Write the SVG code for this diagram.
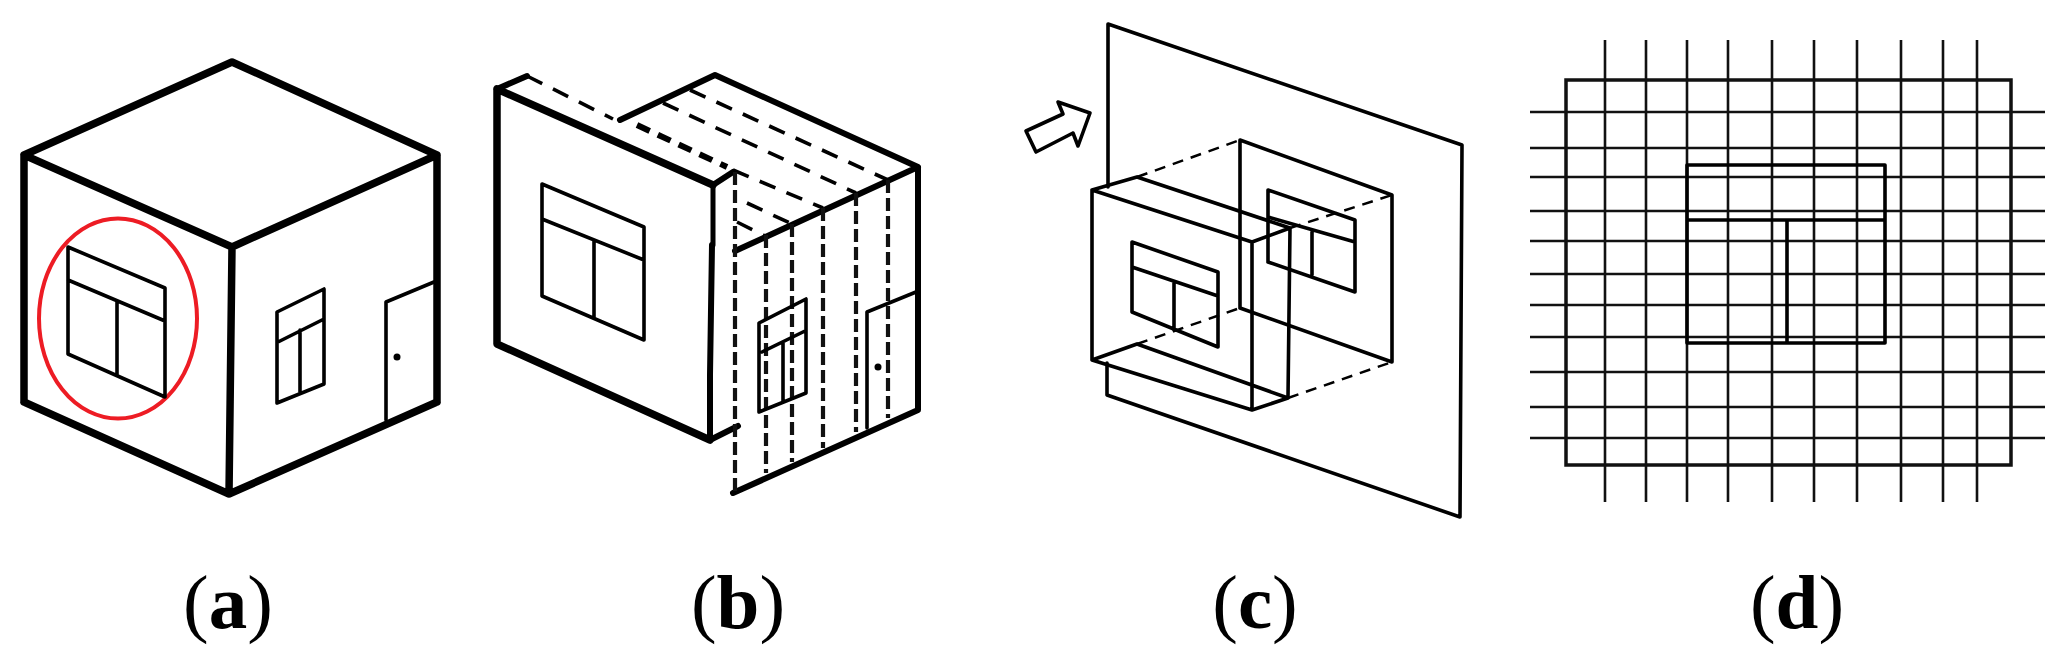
<svg xmlns="http://www.w3.org/2000/svg" width="2071" height="663" viewBox="0 0 2071 663">
<style>
.s{fill:none;stroke:#000;stroke-linecap:round;stroke-linejoin:round}
.t1{stroke-width:7.500}.t2{stroke-width:6}.t3{stroke-width:3.600}.t4{stroke-width:3}
.d{stroke-dasharray:17 12;stroke-linecap:butt}
.v{stroke-dasharray:13 5;stroke-width:4.200;stroke-linecap:butt;stroke:#111}
.c{stroke-dasharray:11 8;stroke-width:2.500;stroke-linecap:butt}
.g{stroke-width:2.600;stroke:#111;fill:none}
.l{font-family:"Liberation Serif","Times New Roman",serif;font-size:77px;fill:#000;text-anchor:middle}
.l tspan{font-weight:bold}
</style>
<g id="panel-a">
<path class="s t1" d="M232 62L24 155L232 247L437 155ZM24 155V402M437 155V402M232 247L229 494M24 402L229 494L437 402"/>
<ellipse cx="118" cy="318.500" rx="79" ry="100" fill="none" stroke="#ed1c24" stroke-width="4"/>
<path class="s t3" d="M68 247L165 288V397L68 354ZM68 280L165 321M117 302V375"/>
<path class="s t3" d="M277 312L324 289V384L277 403ZM278 342L324 319M300 330V392"/>
<path class="s t3" d="M386 420V302L434 282"/>
<circle cx="397" cy="357" r="3.500"/>
</g>
<g id="panel-b">
<path class="s t1" d="M497 89V344L710 440M497 89L713 185"/>
<path class="s t3" style="stroke-width:5" d="M713 185V245"/>
<path class="s t2" d="M712 245L710 375V440"/>
<path class="s t2" d="M497 89L527 76M713 185L733 172M710 440L738 426"/>
<path class="s t2" d="M620 120L715 75L918 167V410L733 493M735 251L918 167"/>
<path class="s t3 d" d="M527 76L613 119"/>
<path class="s t3 d" d="M733 170L823 208M663 103L856 193M690 90L888 180M747 203L792 224M737 222L765 236"/>
<path class="s t2" stroke-dasharray="14 9" style="stroke-linecap:butt" d="M637 125L727 167"/>
<path class="s v" d="M735 172V493M766 235V473M792 224V462M823 208V448M856 193V432M888 180V418"/>
<path class="s t3" d="M542 184L644 227V340L542 296ZM542 219L644 260M594 240V318"/>
<path class="s t3" d="M759 323L806 299V393L759 412ZM762 352L805 331M783 343V402"/>
<path class="s t3" d="M867 428V312L916 292"/>
<circle cx="878" cy="367" r="3.500"/>
</g>
<g id="panel-c">
<path class="s t3" d="M1108 187V24L1462 145L1460 517L1107 395V363"/>
<path class="s t3" d="M1092 190L1252 242V410L1092 360ZM1092 190L1137 177L1290 228L1252 242M1290 228L1288 398L1252 410M1092 360L1137 344L1288 398"/>
<path class="s t3" d="M1240 308V140L1392 195V362L1240 308"/>
<path class="s c" d="M1137 177L1240 140M1137 344L1240 308M1290 228L1392 195M1288 398L1392 362"/>
<path class="s t3" d="M1132 242L1218 272V347L1132 312ZM1132 267L1218 296M1174 283V330"/>
<path class="s t3" d="M1268 262V190L1355 220V292L1268 262M1268 217L1355 242M1312 232V275"/>
<path class="s t3" d="M1026 131L1063 114L1058 102L1090 113L1078 146L1073 133L1036 152Z"/>
</g>
<g id="panel-d">
<rect class="g" x="1566" y="80" width="445" height="385" style="stroke-width:3.500"/>
<path class="g" d="M1605 40V502M1646 40V502M1687 40V502M1728 40V502M1772 40V502M1814 40V502M1857 40V502M1901 40V502M1943 40V502M1977 40V502"/>
<path class="g" d="M1530 112H2045M1530 148H2045M1530 177H2045M1530 211H2045M1530 241H2045M1530 274H2045M1530 305H2045M1530 337H2045M1530 372H2045M1530 407H2045M1530 438H2045"/>
<path class="s t3" d="M1687 165H1885V343H1687ZM1687 220H1885M1787 220V343"/>
</g>
<g id="labels">
<text class="l" x="228" y="628">(<tspan>a</tspan>)</text>
<text class="l" x="738" y="628">(<tspan>b</tspan>)</text>
<text class="l" x="1255" y="628">(<tspan>c</tspan>)</text>
<text class="l" x="1797" y="628">(<tspan>d</tspan>)</text>
</g>
</svg>
